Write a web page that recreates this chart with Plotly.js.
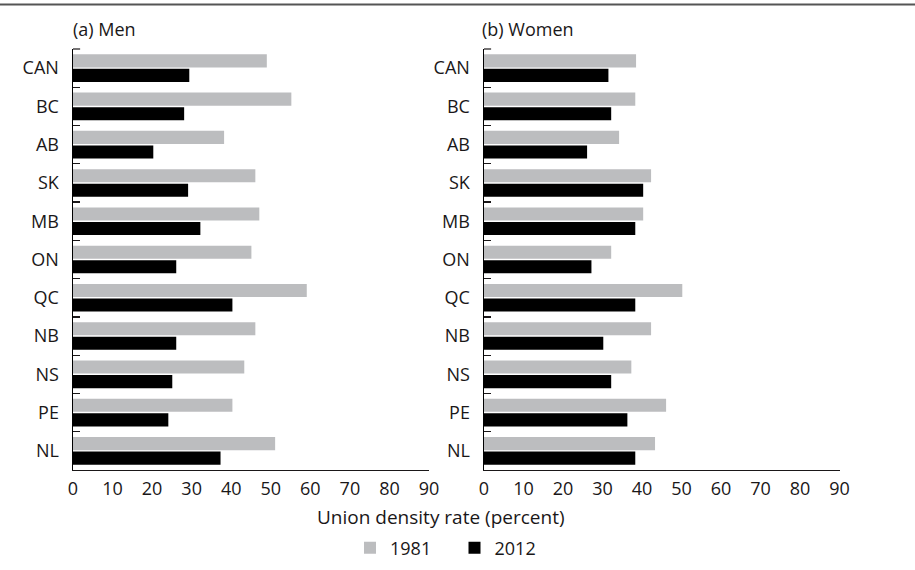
<!DOCTYPE html>
<html>
<head>
<meta charset="utf-8">
<script src="https://cdn.plot.ly/plotly-3.0.1.min.js"></script>
<style>
  html, body { margin: 0; padding: 0; background: #ffffff; }
  #chart { width: 915px; height: 570px; }
</style>
</head>
<body>
<div id="chart"></div>
<script>
// Provinces, top to bottom
const provinces = ["CAN", "BC", "AB", "SK", "MB", "ON", "QC", "NB", "NS", "PE", "NL"];

// Union density rate (percent), men
const men1981 = [49.0, 55.2, 38.2, 46.1, 47.1, 45.1, 59.1, 46.1, 43.3, 40.3, 51.1];
const men2012 = [29.4, 28.1, 20.3, 29.1, 32.2, 26.1, 40.3, 26.1, 25.1, 24.1, 37.3];

// Union density rate (percent), women
const women1981 = [38.5, 38.3, 34.2, 42.3, 40.3, 32.2, 50.2, 42.3, 37.3, 46.1, 43.3];
const women2012 = [31.5, 32.2, 26.1, 40.3, 38.3, 27.2, 38.3, 30.2, 32.2, 36.3, 38.3];

const years = ["1981", "2012"];
const xTicks = [0, 10, 20, 30, 40, 50, 60, 70, 80, 90];

const panelTitles = ["(a) Men", "(b) Women"];
const xTitle = "Union density rate (percent)";

const FONT = "'Open Sans', 'Noto Sans', sans-serif";
const FS = 18;
const TEXT = "#1a1718";
const GREY = "#bcbdbf";
const BLACK = "#000000";

function barTrace(values, name, color, xa, ya, showLegend) {
  return {
    type: "bar",
    orientation: "h",
    x: values,
    y: provinces,
    name: name,
    xaxis: xa,
    yaxis: ya,
    marker: { color: color, line: { width: 0 } },
    showlegend: showLegend,
    legendgroup: name,
    hoverinfo: "x+y+name"
  };
}

const data = [
  barTrace(men1981, years[0], GREY, "x", "y", true),
  barTrace(men2012, years[1], BLACK, "x", "y", true),
  barTrace(women1981, years[0], GREY, "x2", "y2", false),
  barTrace(women2012, years[1], BLACK, "x2", "y2", false)
];

const W = 915, H = 570;
const px = v => v / W;
const py = v => 1 - v / H;

const yDomain = [py(470), py(49)];

function xAxis(domain, anchor) {
  return {
    domain: domain,
    anchor: anchor,
    range: [0, 90],
    tickvals: xTicks,
    ticktext: xTicks.map(String),
    ticks: "",
    showgrid: false,
    zeroline: false,
    showline: true,
    linecolor: TEXT,
    linewidth: 1,
    tickfont: { family: FONT, size: FS, color: TEXT },
    ticklabelstandoff: 2,
    fixedrange: true
  };
}

function yAxis(domain, anchor) {
  return {
    domain: domain,
    anchor: anchor,
    type: "category",
    categoryorder: "array",
    categoryarray: provinces,
    range: [provinces.length - 0.5, -0.5],
    tickson: "boundaries",
    ticks: "inside",
    ticklen: 7,
    tickwidth: 1.2,
    tickcolor: TEXT,
    showgrid: false,
    zeroline: false,
    showline: true,
    linecolor: "#000000",
    linewidth: 1.5,
    tickfont: { family: FONT, size: FS, color: TEXT },
    ticklabelstandoff: 9,
    fixedrange: true
  };
}

// short tick closing the top of each category axis
function topTick(xa, ya) {
  return {
    type: "line",
    xref: xa + " domain", yref: ya + " domain",
    x0: 0, x1: 0.02, y0: 1, y1: 1,
    line: { color: TEXT, width: 1.2 }
  };
}

const layout = {
  width: W,
  height: H,
  margin: { l: 0, r: 0, t: 0, b: 0, pad: 0 },
  paper_bgcolor: "#ffffff",
  plot_bgcolor: "#ffffff",
  font: { family: FONT, size: FS, color: TEXT },
  barmode: "group",
  bargap: 0.24,
  bargroupgap: 0.1,
  xaxis: xAxis([px(73), px(429)], "y"),
  yaxis: yAxis(yDomain, "x"),
  xaxis2: xAxis([px(484), px(839.5)], "y2"),
  yaxis2: yAxis(yDomain, "x2"),
  showlegend: true,
  legend: {
    orientation: "h",
    x: px(350),
    xanchor: "left",
    y: py(548),
    yanchor: "middle",
    entrywidth: 59.5,
    font: { family: FONT, size: FS, color: TEXT },
    traceorder: "normal",
    itemclick: false,
    itemdoubleclick: false
  },
  shapes: [
    {
      type: "line",
      xref: "paper", yref: "paper",
      x0: 0, x1: 1, y0: py(4.5), y1: py(4.5),
      line: { color: "#555555", width: 2 }
    },
    topTick("x", "y"),
    topTick("x2", "y2")
  ],
  annotations: [
    {
      text: panelTitles[0],
      xref: "paper", yref: "paper",
      x: px(71), y: py(29),
      xanchor: "left", yanchor: "middle",
      showarrow: false,
      font: { family: FONT, size: FS, color: TEXT }
    },
    {
      text: panelTitles[1],
      xref: "paper", yref: "paper",
      x: px(480), y: py(29),
      xanchor: "left", yanchor: "middle",
      showarrow: false,
      font: { family: FONT, size: FS, color: TEXT }
    },
    {
      text: xTitle,
      xref: "paper", yref: "paper",
      x: px(441), y: py(517),
      xanchor: "center", yanchor: "middle",
      showarrow: false,
      font: { family: FONT, size: 19, color: TEXT }
    }
  ]
};

Plotly.newPlot("chart", data, layout, { displayModeBar: false, staticPlot: true });
</script>
</body>
</html>
